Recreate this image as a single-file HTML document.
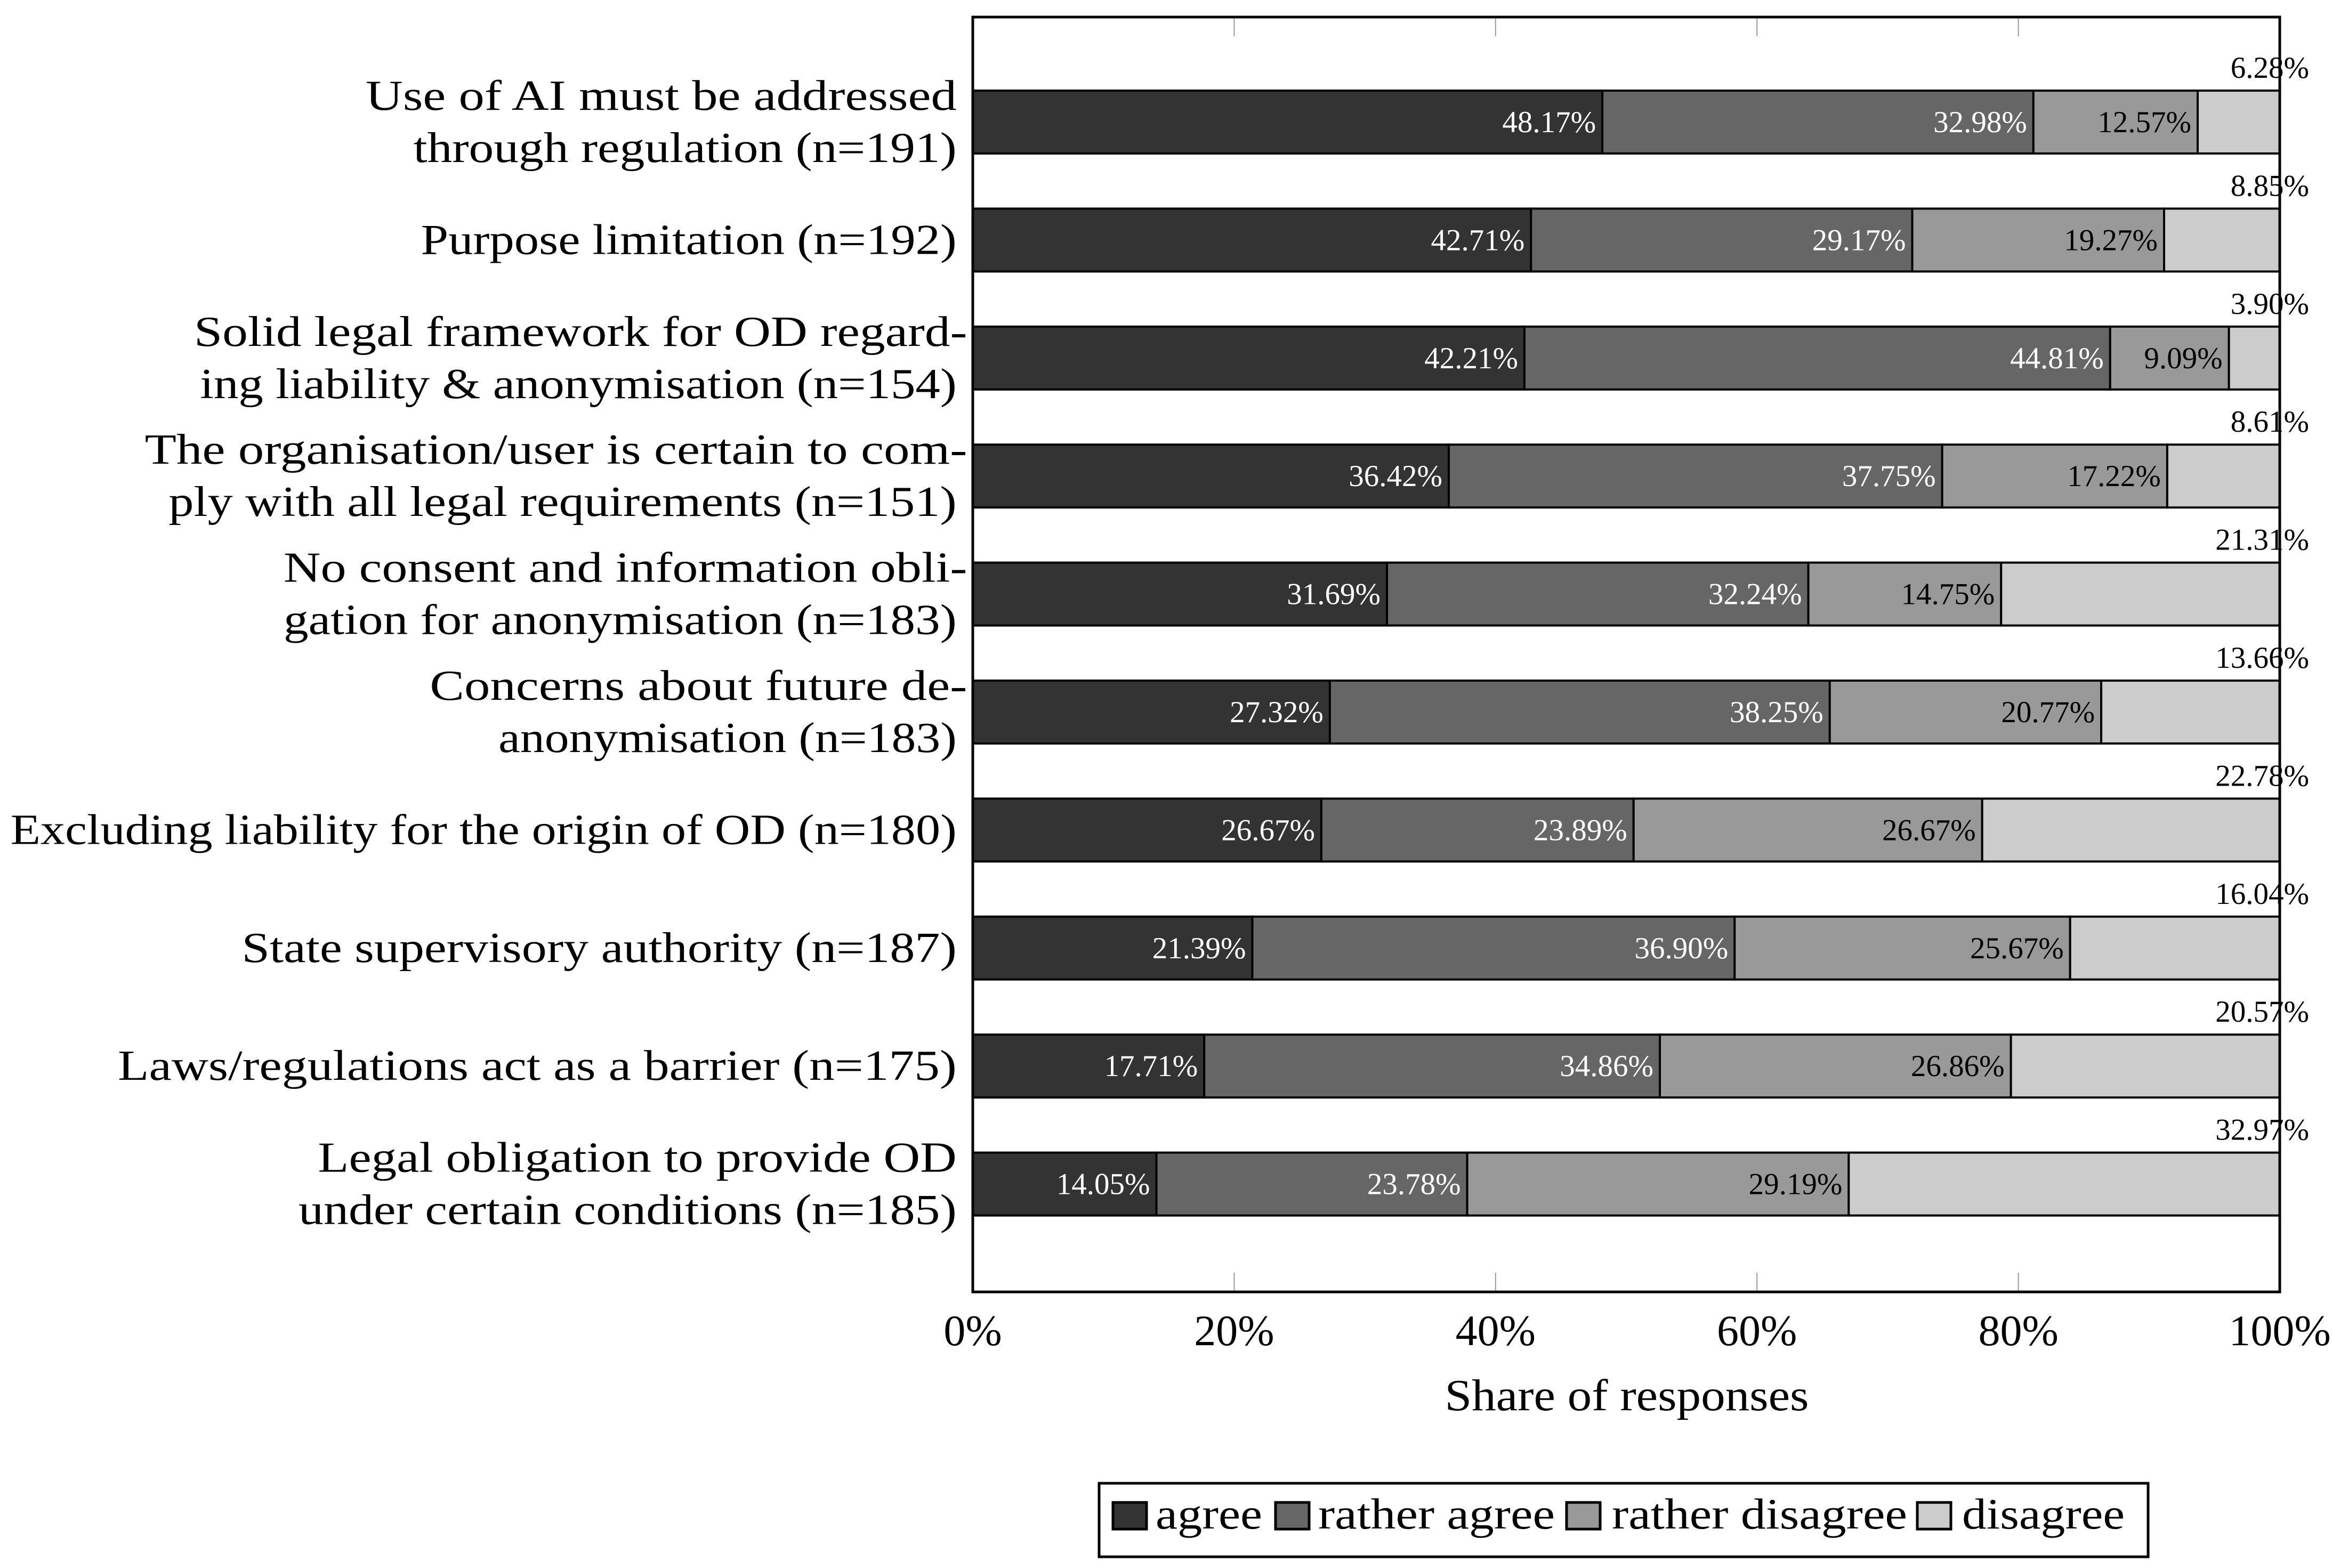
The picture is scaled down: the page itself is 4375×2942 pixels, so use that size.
<!DOCTYPE html>
<html><head><meta charset="utf-8"><style>html,body{margin:0;padding:0;background:#fff}svg{display:block}text{font-family:"Liberation Serif",serif}</style></head>
<body>
<svg id="chart" width="4375" height="2942" viewBox="0 0 4375 2942" xmlns="http://www.w3.org/2000/svg"></svg>
<script>
const categories = [
 ["Use of AI must be addressed","through regulation (n=191)"],
 ["Purpose limitation (n=192)"],
 ["Solid legal framework for OD regard-","ing liability & anonymisation (n=154)"],
 ["The organisation/user is certain to com-","ply with all legal requirements (n=151)"],
 ["No consent and information obli-","gation for anonymisation (n=183)"],
 ["Concerns about future de-","anonymisation (n=183)"],
 ["Excluding liability for the origin of OD (n=180)"],
 ["State supervisory authority (n=187)"],
 ["Laws/regulations act as a barrier (n=175)"],
 ["Legal obligation to provide OD","under certain conditions (n=185)"]
];
const agree = [48.17,42.71,42.21,36.42,31.69,27.32,26.67,21.39,17.71,14.05];
const ratherAgree = [32.98,29.17,44.81,37.75,32.24,38.25,23.89,36.90,34.86,23.78];
const ratherDisagree = [12.57,19.27,9.09,17.22,14.75,20.77,26.67,25.67,26.86,29.19];
const disagree = [6.28,8.85,3.90,8.61,21.31,13.66,22.78,16.04,20.57,32.97];
const seriesNames = ["agree","rather agree","rather disagree","disagree"];
const xTicks = [0,20,40,60,80,100];
// label line geometry (layout, not data)
const lineLayout = [[[641,396],[641,364]],[[641,359]],[[648,518],[641,507]],[[648,551],[641,528]],[[648,458],[641,451]],[[648,360],[641,307]],[[641,634]],[[641,479]],[[641,562]],[[641,428],[641,441]]];

const svg = document.getElementById('chart');
const NS = 'http://www.w3.org/2000/svg';
const L=1825, R=4277, T=32, B=2424, K=2.8;
const colors=['#333333','#666666','#999999','#cccccc'];
const x = v => L + (R-L)*v/100;
const barTop = i => 170 + i*221.4;
const BH = 118;
function mk(tag, attrs, parent){const e=document.createElementNS(NS,tag);for(const k in attrs)e.setAttribute(k,attrs[k]);(parent||svg).appendChild(e);return e;}

xTicks.forEach(t=>{
  if(t>0&&t<100){
    const a=mk('line',{x1:x(t),x2:x(t),y1:T,y2:T+36,stroke:'#999','stroke-width':2});
    
    
    const b=mk('line',{x1:x(t),x2:x(t),y1:B-36,y2:B,stroke:'#999','stroke-width':2});
    
    
  }
  const tl=mk('text',{x:x(t),y:2524,'font-size':82,'text-anchor':'middle',fill:'#000'});
  tl.textContent=t+'%';
  
  
});

const series=[agree,ratherAgree,ratherDisagree,disagree];
categories.forEach((cat,i)=>{
  const y0=barTop(i);
  let cum=0;
  series.forEach((s,j)=>{
    const v=s[i];
    const r=mk('rect',{x:x(cum),y:y0,width:x(cum+v)-x(cum),height:BH,fill:colors[j],stroke:'#000','stroke-width':4});
    
    
    cum+=v;
    const lbl=v.toFixed(2)+'%';
    let t;
    if(j<3){
      t=mk('text',{x:x(cum)-12,y:y0+BH/2+19,'font-size':57,'text-anchor':'end',fill:j<2?'#fff':'#000'});
    } else {
      t=mk('text',{x:4332,y:y0-24,'font-size':57,'text-anchor':'end',fill:'#000'});
    }
    t.textContent=lbl;
    
    
  });
  const cy=y0+BH/2;
  const n=cat.length;
  cat.forEach((line,k)=>{
    const ly = n===1 ? cy : cy + (k===0?-49:49);
    const lay=lineLayout[i][k];
    const t=mk('text',{x:lay[0]*K,y:ly+26,'font-size':80,'text-anchor':'end',fill:'#000',textLength:lay[1]*K,lengthAdjust:'spacingAndGlyphs'});
    t.textContent=line;
    
    
  });
});

const fr=mk('rect',{x:L,y:T,width:R-L,height:B-T,fill:'none',stroke:'#000','stroke-width':5});



const at=mk('text',{x:3052,y:2646,'font-size':84,'text-anchor':'middle',fill:'#000',textLength:683,lengthAdjust:'spacingAndGlyphs'});
at.textContent='Share of responses';



const lg=mk('g',{});


mk('rect',{x:2062,y:2783,width:1968,height:138,fill:'#fff',stroke:'#000','stroke-width':5},lg);
const sw=[2088,2393,2939,3597], tx=[2168,2473,3024,3681], tw=[200,444,554,305];
seriesNames.forEach((nm,j)=>{
  const r=mk('rect',{x:sw[j],y:2819,width:63,height:50,fill:colors[j],stroke:'#000','stroke-width':5},lg);
  
  
  const t=mk('text',{x:tx[j],y:2868,'font-size':82,fill:'#000',textLength:tw[j],lengthAdjust:'spacingAndGlyphs'},lg);
  t.textContent=nm;
  
  
});
</script>
</body></html>
